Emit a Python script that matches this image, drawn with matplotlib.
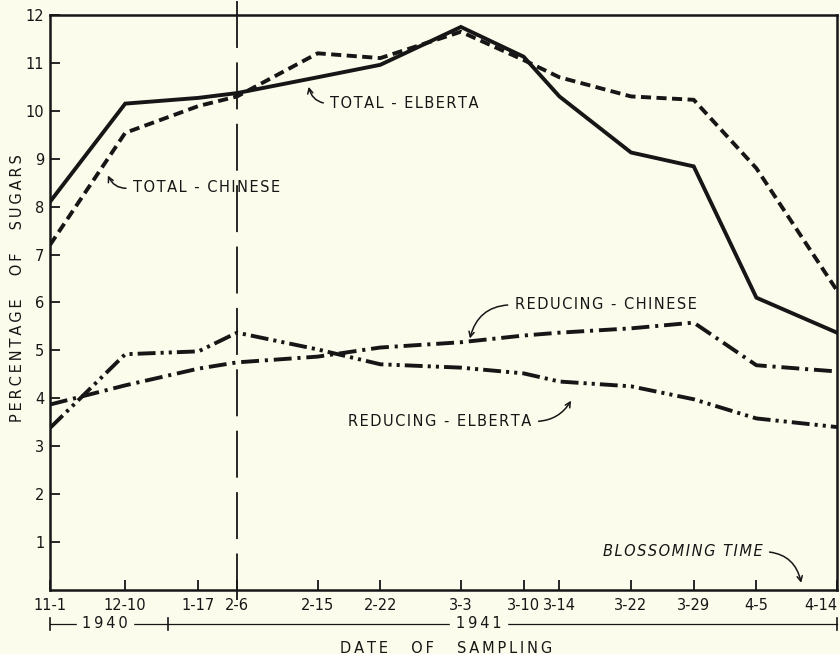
import numpy as np
import matplotlib
matplotlib.use("Agg")
import matplotlib.pyplot as plt

# sampling dates (1940-41) and tick labels
sample_dates = ["1940-11-01", "1940-12-10", "1941-01-17", "1941-02-06", "1941-02-15",
                "1941-02-22", "1941-03-03", "1941-03-10", "1941-03-14", "1941-03-22",
                "1941-03-29", "1941-04-05", "1941-04-14"]
date_labels = ["11-1", "12-10", "1-17", "2-6", "2-15", "2-22", "3-3", "3-10",
               "3-14", "3-22", "3-29", "4-5", "4-14"]

# percentage of sugars
total_elberta = [8.1, 10.15, 10.27, 10.37, 10.7, 10.96, 11.75, 11.13, 10.3, 9.13, 8.84, 6.1, 5.37]
total_chinese = [7.2, 9.54, 10.1, 10.3, 11.2, 11.1, 11.65, 11.06, 10.7, 10.3, 10.23, 8.8, 6.25]
reducing_chinese = [3.87, 4.27, 4.62, 4.75, 4.87, 5.06, 5.17, 5.31, 5.37, 5.46, 5.58, 4.69, 4.56]
reducing_elberta = [3.38, 4.92, 4.98, 5.37, 5.02, 4.71, 4.64, 4.52, 4.35, 4.25, 3.98, 3.58, 3.4]

start = np.datetime64("1940-11-01", "D")
days = (np.array(sample_dates, dtype="datetime64[D]") - start).astype(int)
new_year = int((np.datetime64("1941-01-01", "D") - start).astype(int))
break_day = days[3]  # axis is compressed before 2-6
k = 0.2154


def fwd(d):
    d = np.asarray(d, dtype=float)
    return np.where(d <= break_day, d * k, break_day * k + (d - break_day))


def inv(u):
    u = np.asarray(u, dtype=float)
    return np.where(u <= break_day * k, u / k, u - break_day * k + break_day)


def spaced(s, sep="\u200a"):
    # hand lettering is wider than DejaVu, pad the letters a little
    return sep.join(s)


bg = "#fcfcec"
ink = "#161616"
fs = 10.5

fig = plt.figure(figsize=(8.4, 6.54), dpi=100, facecolor=bg)
ax = fig.add_axes([0.0595, 0.0979, 0.9369, 0.8792], facecolor=bg)
ax.set_xscale("function", functions=(fwd, inv))

lw = 2.8
ax.plot(days, total_elberta, color=ink, lw=lw, solid_joinstyle="miter")
ax.plot(days, total_chinese, color=ink, lw=lw, linestyle=(0, (2.6, 1.4)))
ax.plot(days, reducing_chinese, color=ink, lw=lw, linestyle=(0, (4.6, 1.5, 0.8, 1.5)))
ax.plot(days, reducing_elberta, color=ink, lw=lw,
        linestyle=(0, (4.6, 1.3, 0.8, 1.3, 0.8, 1.3)))

# vertical marker at 2-6
ax.plot([break_day, break_day], [12.3, -0.2], color=ink, lw=1.3,
        linestyle=(0, (26, 8)), clip_on=False)

ax.set_xlim(0, days[-1])
ax.set_ylim(0, 12)
ax.set_xticks(days)
ax.set_xticklabels(date_labels)
ax.get_xticklabels()[-1].set_ha("right")
ax.set_yticks(range(1, 13))
ax.set_yticklabels([str(i) for i in range(1, 13)])
ax.tick_params(direction="in", length=7, width=1.3, colors=ink, labelsize=fs)
ax.tick_params(axis="x", pad=6)
ax.tick_params(axis="y", pad=4)
for s in ax.spines.values():
    s.set_linewidth(1.8)
    s.set_color(ink)

# year brackets
yb = -0.71
ax.plot([days[0], days[-1]], [yb, yb], color=ink, lw=0.9, clip_on=False)
for d in [days[0], new_year, days[-1]]:
    ax.plot([d, d], [yb - 0.12, yb + 0.12], color=ink, lw=1.2, clip_on=False)
ax.text(28.5, yb, spaced("1940", "\u2009"), ha="center", va="center", fontsize=fs,
        color=ink, backgroundcolor=bg, clip_on=False)
ax.text(124, yb, spaced("1941", "\u2009"), ha="center", va="center", fontsize=fs,
        color=ink, backgroundcolor=bg, clip_on=False)

fig.text(0.531, 0.009, "     ".join(spaced(w, "\u2009") for w in ["DATE", "OF", "SAMPLING"]),
         ha="center", va="center", fontsize=fs, color=ink)
fig.text(0.021, 0.56, "     ".join(spaced(w, "\u2009") for w in ["PERCENTAGE", "OF", "SUGARS"]),
         ha="center", va="center", rotation=90, fontsize=fs, color=ink)

arrow = dict(arrowstyle="->,head_length=0.35,head_width=0.18", color=ink, lw=1.1,
             shrinkA=3, shrinkB=0)
ax.annotate(spaced("TOTAL - CHINESE"), xy=(30, 8.65), xytext=(43, 8.4), ha="left",
            va="center", fontsize=fs, color=ink,
            arrowprops=dict(arrow, connectionstyle="arc3,rad=-0.4", relpos=(0, 0.5)))
ax.annotate(spaced("TOTAL - ELBERTA"), xy=(105, 10.5), xytext=(107.4, 10.15), ha="left",
            va="center", fontsize=fs, color=ink,
            arrowprops=dict(arrow, connectionstyle="arc3,rad=-0.4", relpos=(0, 0.5)))
ax.annotate(spaced("REDUCING - CHINESE"), xy=(123, 5.25), xytext=(128, 5.95), ha="left",
            va="center", fontsize=fs, color=ink,
            arrowprops=dict(arrow, connectionstyle="arc3,rad=0.4", relpos=(0, 0.5)))
ax.annotate(spaced("REDUCING - ELBERTA"), xy=(134.3, 3.95), xytext=(129.9, 3.52), ha="right",
            va="center", fontsize=fs, color=ink,
            arrowprops=dict(arrow, connectionstyle="arc3,rad=0.3", relpos=(1, 0.5)))
ax.annotate(spaced("BLOSSOMING TIME"), xy=(160, 0.15), xytext=(155.7, 0.8), ha="right",
            va="center", fontsize=fs, color=ink, style="italic",
            arrowprops=dict(arrow, connectionstyle="arc3,rad=-0.4", relpos=(1, 0.5)))

fig.savefig("out.png", dpi=100, facecolor=bg)
